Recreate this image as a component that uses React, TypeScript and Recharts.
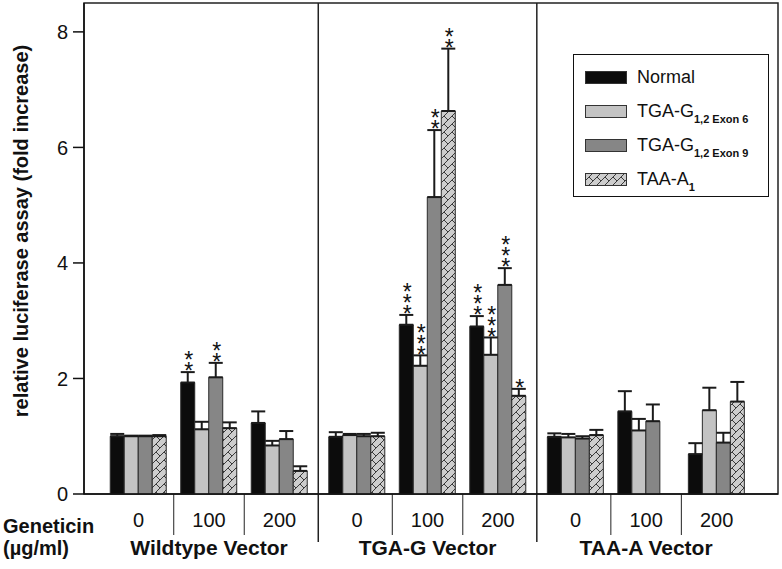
import {
  BarChart,
  Bar,
  XAxis,
  YAxis,
  ErrorBar,
  LabelList,
  ReferenceLine,
  ReferenceArea,
  Legend,
} from "recharts"

const vectors = ["Wildtype Vector", "TGA-G Vector", "TAA-A Vector"]
const doses = ["0", "100", "200"]

// fold increase per group: WT 0/100/200, TGA-G 0/100/200, TAA-A 0/100/200
const normal = [1.0, 1.93, 1.23, 0.99, 2.93, 2.9, 0.99, 1.43, 0.69]
const normalErr = [0.04, 0.18, 0.2, 0.08, 0.17, 0.18, 0.06, 0.35, 0.19]
const exon6 = [1.0, 1.12, 0.84, 1.02, 2.22, 2.41, 0.98, 1.1, 1.45]
const exon6Err = [0.01, 0.13, 0.08, 0.02, 0.18, 0.3, 0.06, 0.2, 0.39]
const exon9 = [1.0, 2.02, 0.95, 1.0, 5.14, 3.62, 0.96, 1.26, 0.89]
const exon9Err = [0.01, 0.25, 0.14, 0.04, 1.16, 0.29, 0.04, 0.29, 0.17]
const taa = [1.0, 1.14, 0.4, 1.0, 6.63, 1.7, 1.02, null, 1.6]
const taaErr = [0.02, 0.1, 0.08, 0.06, 1.08, 0.12, 0.09, null, 0.34]

// number of significance stars above each bar
const normalStars = [0, 2, 0, 0, 3, 3, 0, 0, 0]
const exon6Stars = [0, 0, 0, 0, 3, 3, 0, 0, 0]
const exon9Stars = [0, 2, 0, 0, 2, 3, 0, 0, 0]
const taaStars = [0, 0, 0, 0, 2, 1, 0, 0, 0]

const seriesKeys = ["normal", "exon6", "exon9", "taa"]
const seriesMain = ["Normal", "TGA-G", "TGA-G", "TAA-A"]
const seriesSub = ["", "1,2 Exon 6", "1,2 Exon 9", "1"]
const seriesFill = ["#0c0c0c", "#c3c3c3", "#868686", "url(#hatch)"]

const values = [normal, exon6, exon9, taa]
const errors = [normalErr, exon6Err, exon9Err, taaErr]
const stars = [normalStars, exon6Stars, exon9Stars, taaStars]

const vectorGap = 0.1 // a little extra room between the three vectors
const xDomain: [number, number] = [-0.773, 9.071]
const yMax = 8.5

const data = vectors.flatMap((vector, v) =>
  doses.map((dose, d) => {
    const i = v * doses.length + d
    const row: any = { pos: v * (doses.length + vectorGap) + d, dose, vector }
    seriesKeys.forEach((k, s) => {
      row[k] = values[s][i]
      row[k + "Err"] = errors[s][i] == null ? null : [0, errors[s][i]]
    })
    return row
  })
)

const doseTicks = data.map((r) => r.pos)
const vectorTicks = data.filter((r) => r.dose === doses[1]).map((r) => r.pos)
const labelAt = (key: string) => (p: number) =>
  data.find((r) => Math.abs(r.pos - p) < 1e-6)?.[key] ?? ""

const separators = data.slice(1).map((r, i) => ({
  x: (r.pos + data[i].pos) / 2,
  major: r.vector !== data[i].vector,
}))

const font = "'Liberation Sans', Arial, sans-serif"

const STAR_SIZE = 23
const STAR_STEP = 11

const starContent = (s: number) => (props: any) => {
  const vb = props.viewBox ?? props
  const idx = props.index
  const n = stars[s][idx]
  const val = values[s][idx]
  if (!n || !val) return null
  const perUnit = vb.height / val
  const capY = vb.y - (errors[s][idx] ?? 0) * perUnit
  const cx = vb.x + vb.width / 2 + 1
  // baseline of the top star; glyph centre sits ~0.58em above baseline
  const topBase = capY - 6 - (n - 1) * STAR_STEP + STAR_SIZE * 0.58
  return (
    <text x={cx} y={topBase} textAnchor="middle" fontSize={STAR_SIZE} style={{ fill: "#111" }}>
      {Array.from({ length: n }).map((_, i) => (
        <tspan key={i} x={cx} dy={i === 0 ? 0 : STAR_STEP}>
          *
        </tspan>
      ))}
    </text>
  )
}

function LegendBox() {
  return (
    <div
      style={{
        border: "1.5px solid #111",
        width: 196,
        height: 143,
        boxSizing: "border-box",
        padding: "5px 0 0 11px",
        background: "#fff",
        fontFamily: font,
      }}
    >
      {seriesMain.map((name, s) => (
        <div key={s} style={{ display: "flex", alignItems: "center", height: 34 }}>
          <svg width={42} height={13} style={{ marginRight: 10, flex: "none" }}>
            <rect x={0.5} y={0.5} width={41} height={12} fill={seriesFill[s]} stroke="#333" />
          </svg>
          <span style={{ fontSize: 18, color: "#111", lineHeight: 1, whiteSpace: "nowrap" }}>
            {name}
            {seriesSub[s] && (
              <span style={{ fontSize: 11, position: "relative", top: 6, fontWeight: 600 }}>
                {seriesSub[s]}
              </span>
            )}
          </span>
        </div>
      ))}
    </div>
  )
}

export default function App() {
  return (
    <div
      style={{
        position: "absolute",
        left: 0,
        top: 0,
        width: 782,
        height: 569,
        background: "#fff",
        fontFamily: font,
      }}
    >
      <BarChart
        width={782}
        height={569}
        data={data}
        barGap={0}
        margin={{ top: 3, right: 4, bottom: 5, left: 0 }}
      >
        <defs>
          <pattern id="hatch" width="8" height="8" patternUnits="userSpaceOnUse">
            <rect width="8" height="8" fill="#cdcdcd" />
            <path d="M0,8 L8,0 M-1,1 L1,-1 M7,9 L9,7 M4,4 L8,8" stroke="#3a3a3a" strokeWidth="1" />
          </pattern>
        </defs>
        <XAxis
          xAxisId={0}
          dataKey="pos"
          type="number"
          domain={xDomain}
          allowDataOverflow
          ticks={doseTicks}
          tickFormatter={labelAt("dose")}
          tickLine={false}
          tickSize={10}
          tickMargin={9}
          height={30}
          interval={0}
          axisLine={{ stroke: "#111", strokeWidth: 1.5 }}
          tick={{ fill: "#111", fontSize: 20 }}
          label={{
            content: (p: any) => {
              const vb = p.viewBox
              return (
                <g fontWeight="bold" fontSize={20} fill="#111">
                  <text x={vb.x - 81} y={vb.y + 39}>Geneticin</text>
                  <text x={vb.x - 81} y={vb.y + 61}>(µg/ml)</text>
                </g>
              )
            },
          }}
        />
        <XAxis
          xAxisId="vec"
          dataKey="pos"
          type="number"
          domain={xDomain}
          allowDataOverflow
          ticks={vectorTicks}
          tickFormatter={labelAt("vector")}
          axisLine={false}
          tickLine={false}
          tickSize={8}
          tickMargin={8}
          height={40}
          interval={0}
          tick={{ fill: "#111", fontSize: 21, fontWeight: "bold" }}
        />
        <YAxis
          domain={[0, yMax]}
          ticks={[0, 2, 4, 6, 8]}
          width={84}
          tickSize={11}
          tickMargin={5}
          axisLine={{ stroke: "#111", strokeWidth: 1.5 }}
          tickLine={{ stroke: "#111", strokeWidth: 1.5 }}
          tick={{ fill: "#111", fontSize: 20 }}
          label={{
            content: () => (
              <text
                x={21}
                y={231}
                dy="0.35em"
                transform="rotate(-90, 21, 231)"
                textAnchor="middle"
                fontWeight="bold"
                fontSize={20}
                fill="#111"
              >
                relative luciferase assay (fold increase)
              </text>
            ),
          }}
        />
        <ReferenceArea
          x1={xDomain[0]}
          x2={xDomain[1]}
          y1={0}
          y2={yMax}
          fill="none"
          stroke="#222"
          strokeWidth={1.5}
          ifOverflow="visible"
        />
        {separators.map((sep, i) => (
          <ReferenceLine
            key={i}
            segment={[
              { x: sep.x, y: sep.major ? -0.83 : 0 },
              { x: sep.x, y: sep.major ? yMax : -0.71 },
            ]}
            stroke="#222"
            strokeWidth={sep.major ? 1.5 : 1}
            ifOverflow="visible"
          />
        ))}
        {seriesKeys.map((k, s) => (
          <Bar
            key={k}
            dataKey={k}
            name={seriesMain[s]}
            fill={seriesFill[s]}
            stroke="#2b2b2b"
            strokeWidth={1}
            barSize={14}
            isAnimationActive={false}
          >
            <ErrorBar dataKey={k + "Err"} width={7} strokeWidth={2} stroke="#1b1b1b" direction="y" />
            <LabelList dataKey={k} content={starContent(s)} />
          </Bar>
        ))}
        <Legend
          layout="horizontal"
          verticalAlign="middle"
          align="center"
          wrapperStyle={{ position: "absolute", left: 573, top: 54, width: 196, height: 143 }}
          content={() => <LegendBox />}
        />
      </BarChart>
    </div>
  )
}
